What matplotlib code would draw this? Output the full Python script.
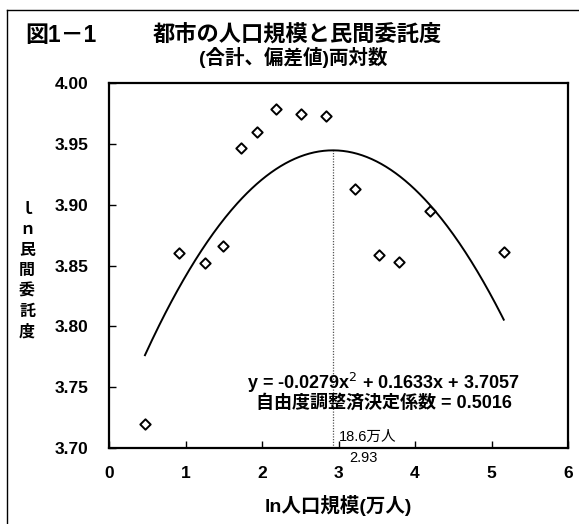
import numpy as np
import matplotlib
matplotlib.use("Agg")
import matplotlib.pyplot as plt
from matplotlib.lines import Line2D

plt.rcParams['font.family'] = ['Liberation Sans', 'Noto Sans CJK JP', 'DejaVu Sans']

# ln(population, 10k people) and ln(outsourcing index)
ln_pop = [0.47, 0.92, 1.26, 1.49, 1.72, 1.94, 2.18, 2.51, 2.84, 3.21, 3.53, 3.79, 4.19, 5.16]
ln_outsourcing = [3.7195, 3.8605, 3.852, 3.866, 3.9466, 3.9595, 3.9786, 3.9745, 3.9726,
                  3.9126, 3.8589, 3.8529, 3.8948, 3.8613]

# quadratic trendline  y = a x^2 + b x + c
coef_a, coef_b, coef_c = -0.0279, 0.1633, 3.7057
adj_r2 = 0.5016
peak_x = 2.93
peak_pop_label = "18.6万人"

x_ticks = [0, 1, 2, 3, 4, 5, 6]
y_ticks = [3.70, 3.75, 3.80, 3.85, 3.90, 3.95, 4.00]

W, H = 579, 524
fig = plt.figure(figsize=(W / 100, H / 100), dpi=100)
ax = fig.add_axes([109 / W, 1 - 448 / H, 459 / W, 365 / H])

ax.scatter(ln_pop, ln_outsourcing, marker='D', s=28, facecolors='white',
           edgecolors='black', linewidths=1.4, zorder=4)

xs = np.linspace(min(ln_pop), max(ln_pop), 300)
ys = coef_a * xs ** 2 + coef_b * xs + coef_c
ax.plot(xs, ys, color='black', lw=1.4, zorder=3)

# vertical guide at the peak of the fitted curve
peak_y = coef_a * peak_x ** 2 + coef_b * peak_x + coef_c
ax.plot([peak_x, peak_x], [y_ticks[0], peak_y], color='#555555', lw=0.9,
        ls=(0, (1, 1.2)), zorder=2)

ax.set_xlim(x_ticks[0], x_ticks[-1])
ax.set_ylim(y_ticks[0], y_ticks[-1])
ax.set_xticks(x_ticks)
ax.set_yticks(y_ticks)
ax.set_xticklabels([str(t) for t in x_ticks])
ax.set_yticklabels([f"{t:.2f}" for t in y_ticks])
ax.tick_params(direction='in', length=5, width=1, labelsize=12.5)
ax.tick_params(axis='y', pad=15)
ax.tick_params(axis='x', pad=13)
for lab in ax.get_xticklabels() + ax.get_yticklabels():
    lab.set_fontweight('bold')
for sp in ax.spines.values():
    sp.set_linewidth(1.6)

# equation and adjusted R^2
ax.text(3.58, 3.7534, f"y = {coef_a:.4f}x$^2$ + {coef_b:.4f}x + {coef_c:.4f}",
        ha='center', va='center', fontsize=13, fontweight='bold')
ax.text(3.60, 3.737, f"自由度調整済決定係数 = {adj_r2:.4f}",
        ha='center', va='center', fontsize=13, fontweight='bold')
ax.text(peak_x + 0.07, 3.7095, peak_pop_label, ha='left', va='center', fontsize=10.5)
ax.text(peak_x + 0.39, 3.6918, f"{peak_x:.2f}", ha='center', va='center',
        fontsize=10.5, clip_on=False)

# titles
fig.text(25 / W, 1 - 35 / H, "図1－1", ha='left', va='center', fontsize=16.5,
         fontweight='bold')
fig.text(297 / W, 1 - 35 / H, "都市の人口規模と民間委託度", ha='center', va='center',
         fontsize=16, fontweight='bold')
fig.text(293 / W, 1 - 57 / H, "(合計、偏差値)両対数", ha='center', va='center',
         fontsize=14, fontweight='bold')

# axis labels
fig.text(27 / W, 1 - 271 / H, "ｌ\nｎ\n民\n間\n委\n託\n度", ha='center', va='center',
         fontsize=11.5, fontweight='bold', linespacing=1.45)
fig.text(338 / W, 1 - 505 / H, "ln人口規模(万人)", ha='center', va='center',
         fontsize=14, fontweight='bold')

# outer frame (left and top edges)
fig.add_artist(Line2D([7 / W, 7 / W], [0, 1 - 10 / H], transform=fig.transFigure,
                      color='black', lw=1.0))
fig.add_artist(Line2D([7 / W, 1], [1 - 10 / H, 1 - 10 / H], transform=fig.transFigure,
                      color='black', lw=1.0))

fig.savefig("out.png", dpi=100)
